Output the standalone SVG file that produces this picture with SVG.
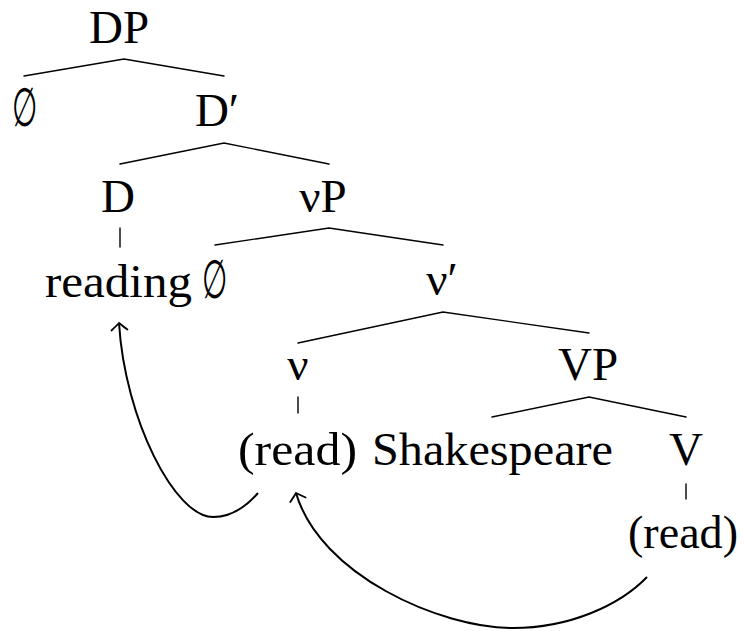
<svg xmlns="http://www.w3.org/2000/svg" width="745" height="631" viewBox="0 0 745 631">
<style>
text{font-family:"Liberation Serif","DejaVu Serif",serif;font-size:47px;fill:#000;text-anchor:middle}
.e{stroke:#000;stroke-width:1.4;fill:none;stroke-linecap:round}
.mv{stroke:#000;stroke-width:2;fill:none}
</style>
<defs>
<marker id="to" markerUnits="userSpaceOnUse" markerWidth="20" markerHeight="20" viewBox="-10 -10 20 20" refX="0" refY="0" orient="auto">
<path d="M-7,-8 Q-2,-2 0,0 Q-2,2 -7,8" fill="none" stroke="#000" stroke-width="1.8" stroke-linecap="round"/>
</marker>
</defs>
<g id="DP"><text x="119" y="43">DP</text></g>
<g id="null1"><text transform="translate(24,126) scale(0.62,1.15)">∅</text></g>
<g id="Dbar"><text x="217" y="126">D′</text></g>
<g id="D"><text x="118" y="212">D</text></g>
<g id="vP"><text x="323" y="212">νP</text></g>
<g id="reading"><text x="118.5" y="297" textLength="147" lengthAdjust="spacingAndGlyphs">reading</text></g>
<g id="null2"><text transform="translate(214,298) scale(0.62,1.15)">∅</text></g>
<g id="vbar"><text x="442" y="295">ν′</text></g>
<g id="v"><text x="298" y="380">ν</text></g>
<g id="VP"><text x="588" y="380">VP</text></g>
<g id="read1"><text x="297.5" y="465" textLength="119" lengthAdjust="spacingAndGlyphs">(read)</text></g>
<g id="Shakespeare"><text x="492.5" y="465" textLength="241" lengthAdjust="spacingAndGlyphs">Shakespeare</text></g>
<g id="V"><text x="686" y="465">V</text></g>
<g id="read2"><text x="683" y="548" textLength="110" lengthAdjust="spacingAndGlyphs">(read)</text></g>
<g id="connectors">
<path class="e" d="M24,76 L124,59 L224,76"/>
<path class="e" d="M120,164 L224,143 L329,164"/>
<path class="e" d="M120,228 L120,247"/>
<path class="e" d="M215,245 L329,228 L443,245"/>
<path class="e" d="M298,343 L443,312 L589,333"/>
<path class="e" d="M298,397 L298,413"/>
<path class="e" d="M492,417 L589,397 L686,417"/>
<path class="e" d="M686,484 L686,499"/>
<path class="mv" marker-end="url(#to)" d="M258,493 C245,508 230,517 213,517 C175,517 125,420 119,323"/>
<path class="mv" marker-end="url(#to)" d="M647,577 C620,605 570,628 513,628 C440,628 320,575 296,493"/>
</g>
</svg>
